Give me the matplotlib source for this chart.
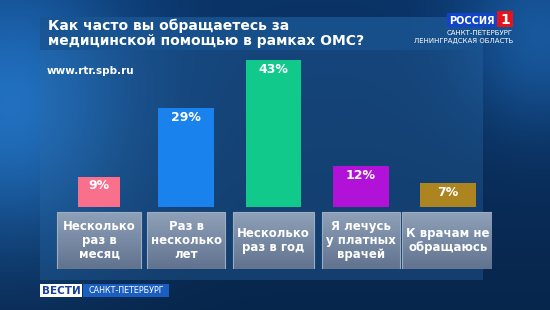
import numpy as np
import matplotlib.pyplot as plt
from matplotlib.patches import Rectangle

title = "Как часто вы обращаетесь за\nмедицинской помощью в рамках ОМС?"
categories = ["Несколько\nраз в\nмесяц", "Раз в\nнесколько\nлет", "Несколько\nраз в год",
              "Я лечусь\nу платных\nврачей", "К врачам не\nобращаюсь"]
values = [9, 29, 43, 12, 7]
labels = ["9%", "29%", "43%", "12%", "7%"]

bar_colors = ["#f9708c", "#1a82ec", "#12c98c", "#b212d8", "#ad8520"]
bar_widths = [0.48, 0.64, 0.64, 0.64, 0.64]
box_widths = [0.96, 0.89, 0.92, 0.89, 1.05]

W, H = 550, 310
fig = plt.figure(figsize=(5.5, 3.1), dpi=100)

# background in pixel coordinates
bg = fig.add_axes([0, 0, 1, 1])
bg.set_xlim(0, W)
bg.set_ylim(H, 0)
bg.axis("off")

yy, xx = np.mgrid[0:H, 0:W]
glow_l = np.exp(-(((xx - 10) / 120.0) ** 2 + ((yy - 110) / 140.0) ** 2))
glow_r = np.exp(-(((xx - 540) / 80.0) ** 2 + ((yy - 40) / 90.0) ** 2))
base = np.array([0.04, 0.20, 0.40])
light = np.array([0.15, 0.50, 0.85])
img = base[None, None, :] * (1 - 0.25 * yy[..., None] / H)
img = img + (light - base)[None, None, :] * (0.85 * glow_l + 0.5 * glow_r)[..., None]
bg.imshow(np.clip(img, 0, 1), extent=(0, W, H, 0), aspect="auto", zorder=0)

# main panel and title band
bg.add_patch(Rectangle((40, 50), 443, 230, facecolor="#2a6aa8", alpha=0.35, lw=0, zorder=1))
bg.add_patch(Rectangle((40, 17), 443, 33, facecolor="#1a5592", alpha=0.85, lw=0, zorder=1))
bg.text(48, 33, title, color="white", fontsize=10, fontweight="bold",
        va="center", ha="left", linespacing=1.1, zorder=3)
bg.text(47, 71, "www.rtr.spb.ru", color="white", fontsize=7.5, fontweight="bold",
        va="center", ha="left", zorder=3)

# channel logo
bg.add_patch(Rectangle((447, 13), 50, 14, facecolor="#1144c8", lw=0, zorder=3))
bg.add_patch(Rectangle((497, 11), 16, 16, facecolor="#e3141c", lw=0, zorder=3))
bg.text(472, 20.5, "РОССИЯ", color="white", fontsize=7, fontweight="bold",
        ha="center", va="center", zorder=4)
bg.text(505, 19.5, "1", color="white", fontsize=10, fontweight="bold",
        ha="center", va="center", zorder=4)
bg.text(513, 33, "САНКТ-ПЕТЕРБУРГ", color="white", fontsize=5, ha="right", va="center", zorder=4)
bg.text(513, 41, "ЛЕНИНГРАДСКАЯ ОБЛАСТЬ", color="white", fontsize=5, ha="right", va="center", zorder=4)

# bottom logo
bg.add_patch(Rectangle((40, 284), 42, 13, facecolor="white", lw=0, zorder=3))
bg.add_patch(Rectangle((83, 284), 86, 13, facecolor="#1a5fc0", lw=0, zorder=3))
bg.text(61, 290.5, "ВЕСТИ", color="#1a3f9c", fontsize=7.5, fontweight="bold",
        ha="center", va="center", zorder=4)
bg.text(126, 290.5, "САНКТ-ПЕТЕРБУРГ", color="white", fontsize=5.8,
        ha="center", va="center", zorder=4)

# bar axes: 3.42 px per percent, zero line at y=209 px
scale = 3.42
ymin, ymax = -60 / scale, 45
ax_h = (ymax - ymin) * scale
ax = fig.add_axes([55.4 / W, (H - 269) / H, 436.25 / W, ax_h / H])
ax.set_xlim(-0.5, 4.5)
ax.set_ylim(ymin, ymax)
ax.axis("off")
ax.patch.set_alpha(0)

x = np.arange(len(values))
ax.bar(x, values, width=bar_widths, color=bar_colors, bottom=0.5, zorder=2)
for i, (v, lab) in enumerate(zip(values, labels)):
    ax.annotate(lab, (i, v + 0.5), xytext=(0, -2), textcoords="offset points",
                ha="center", va="top", color="white", fontsize=9, fontweight="bold")

box_top = -3 / scale
box_bot = ymin
top_c = np.array([0.56, 0.63, 0.72])
bot_c = np.array([0.38, 0.45, 0.56])
t = np.linspace(0, 1, 32)[:, None, None]
grad = top_c * (1 - t) + bot_c * t
for i, cat in enumerate(categories):
    bw = box_widths[i]
    ax.imshow(grad, extent=(i - bw / 2, i + bw / 2, box_bot, box_top),
              aspect="auto", origin="upper", zorder=2)
    ax.add_patch(Rectangle((i - bw / 2, box_bot), bw, box_top - box_bot,
                           facecolor="none", edgecolor="#9cadc2", lw=0.8, zorder=2.5))
    ax.text(i, (box_top + box_bot) / 2, cat, color="white", fontsize=8.5,
            fontweight="bold", ha="center", va="center", linespacing=1.1, zorder=3)
ax.set_xlim(-0.5, 4.5)
ax.set_ylim(ymin, ymax)

fig.savefig("out.png", dpi=100)
